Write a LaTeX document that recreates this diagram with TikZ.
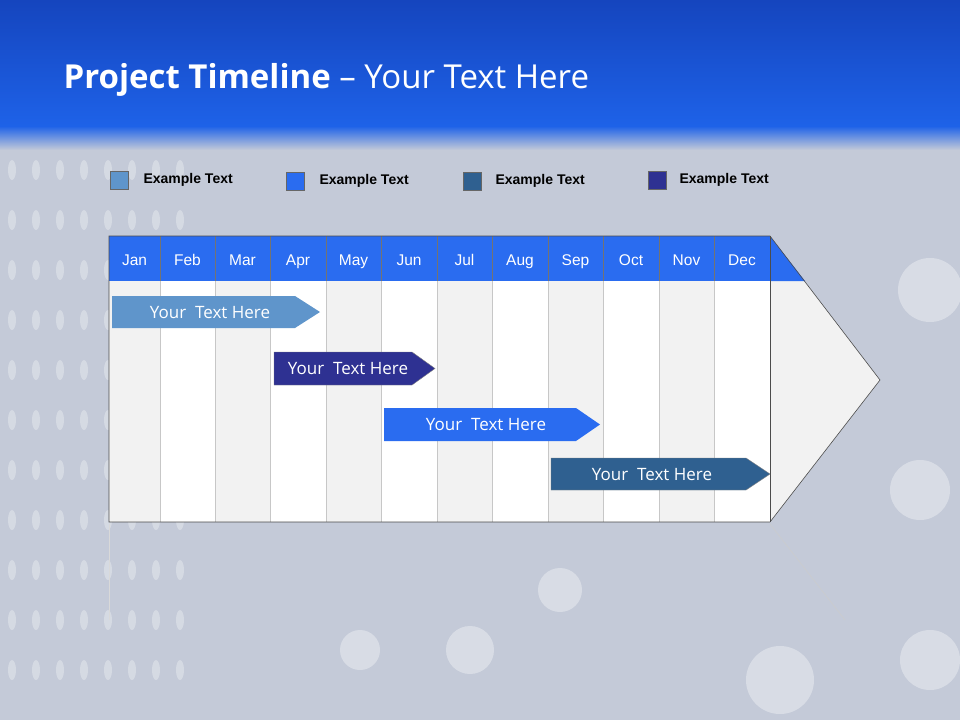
\documentclass[tikz,border=0pt]{standalone}
\usepackage{fontspec}
\setmainfont{Open Sans}
\setsansfont{Liberation Sans}
\definecolor{topb}{HTML}{1545BE}
\definecolor{topb2}{HTML}{1E62E8}
\definecolor{bgc}{HTML}{C4CAD8}
\definecolor{hdr}{HTML}{2A6CF0}
\definecolor{cA}{HTML}{5F95CB}
\definecolor{cB}{HTML}{2A6CF0}
\definecolor{cC}{HTML}{2F6090}
\definecolor{cD}{HTML}{2E3192}
\definecolor{grc}{HTML}{F2F2F2}
\tikzset{
 lsq/.style={draw=black!60,line width=0.4pt,minimum size=18pt,inner sep=0pt},
 ltxt/.style={anchor=west,font=\sffamily\fontsize{14pt}{16pt}\selectfont\bfseries},
 mon/.style={text=white,anchor=base,font=\sffamily\fontsize{15.5pt}{17pt}\selectfont},
 bar/.style={text=white,anchor=base,font=\fontsize{17pt}{19pt}\selectfont}
}
\begin{document}
\begin{tikzpicture}[x=1pt,y=-1pt]
\useasboundingbox (0,0) rectangle (960,720);
\fill[bgc] (0,0) rectangle (960,720);
\shade[top color=topb,bottom color=topb2] (0,0) rectangle (960,126);
\shade[top color=topb2,bottom color=bgc] (0,126) rectangle (960,150);
\foreach \c in {0,...,7}{\foreach \r in {0,...,10}{
 \fill[white,opacity=0.3] ({12+\c*24},{170+\r*50}) ellipse (4 and 10);}}
\foreach \x/\y/\s in {930/290/32,920/490/30,780/680/34,560/590/22,470/650/24,360/650/20,930/660/30}{
 \fill[white,opacity=0.35] (\x,\y) circle (\s);}
\node[anchor=west,text=white,font=\fontsize{33pt}{38pt}\selectfont] (title) at (60,80) {\textbf{Project Timeline} -- Your Text Here};
\node[lsq,fill=cA] (l1) at (119,180) {}; \node[ltxt] (t1) at (140,180) {Example Text};
\node[lsq,fill=cB] (l2) at (295,181) {}; \node[ltxt] (t2) at (316,181) {Example Text};
\node[lsq,fill=cC] (l3) at (472,181) {}; \node[ltxt] (t3) at (492,181) {Example Text};
\node[lsq,fill=cD] (l4) at (657,180) {}; \node[ltxt] (t4) at (676,180) {Example Text};
\draw[white!70!gray,line width=0.5pt] (109,524) -- (109,620);
\draw[white!60!gray,line width=0.5pt] (770,524) -- (845,620);
\fill[grc] (770,236) -- (880,380) -- (770,522) -- cycle;
\fill[hdr] (770,236) -- (805,281) -- (770,281) -- cycle;
\foreach \a/\b/\g in {109/160/1,160/215/0,215/270/1,270/326/0,326/381/1,381/437/0,437/492/1,492/548/0,548/603/1,603/659/0,659/714/1,714/770/0}{
 \ifnum\g=1 \fill[grc] (\a,281) rectangle (\b,522); \else \fill[white] (\a,281) rectangle (\b,522); \fi
 \fill[hdr] (\a,236) rectangle (\b,281);
}
\foreach \a/\b/\m [count=\i] in {109/160/Jan,160/215/Feb,215/270/Mar,270/326/Apr,326/381/May,381/437/Jun,437/492/Jul,492/548/Aug,548/603/Sep,603/659/Oct,659/714/Nov,714/770/Dec}{
 \draw[black!22,line width=0.7pt] (\b,281) -- (\b,522);
 \draw[black!55,line width=0.6pt] (\b,236) -- (\b,281);
 \node[mon] (m\i) at ({(\a+\b)/2},265) {\m};
}
\draw[black!70,line width=0.6pt] (109,236) -- (770,236) -- (880,380) -- (770,522) -- (109,522) -- cycle;
\draw[black!70,line width=0.6pt] (770,236) -- (770,522);
\fill[cA] (112,296) -- (295,296) -- (320,312) -- (295,328) -- (112,328) -- cycle;
\node[bar] (b1) at (210,318) {Your\ \ Text Here};
\fill[cD,draw=black!50] (274,352) -- (412,352) -- (435,368.5) -- (412,385) -- (274,385) -- cycle;
\node[bar] (b2) at (348,374.5) {Your\ \ Text Here};
\fill[cB] (384,408) -- (576,408) -- (600,424.5) -- (576,441) -- (384,441) -- cycle;
\node[bar] (b3) at (486,430.5) {Your\ \ Text Here};
\fill[cC,draw=black!50] (551,458) -- (746,458) -- (770,474) -- (746,490) -- (551,490) -- cycle;
\node[bar] (b4) at (652,480) {Your\ \ Text Here};
\end{tikzpicture}
\end{document}
